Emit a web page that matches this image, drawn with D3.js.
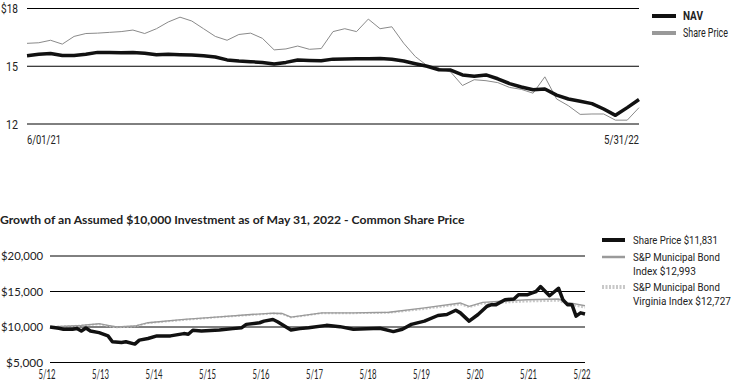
<!DOCTYPE html>
<html><head><meta charset="utf-8">
<script src="https://cdn.jsdelivr.net/npm/d3@7/dist/d3.min.js"></script>
<style>body{margin:0;background:#fff}svg{display:block}</style>
</head><body>
<svg id="c" width="733" height="381"></svg>
<script>
// ---------- Top chart data (weekly, from 6/01/21) ----------
const topStartDate = "2021-06-01";
const navValues = [15.55,15.62,15.66,15.56,15.56,15.62,15.72,15.72,15.70,15.71,15.68,15.60,15.62,15.60,15.58,15.54,15.48,15.33,15.27,15.24,15.19,15.12,15.20,15.32,15.30,15.29,15.37,15.38,15.39,15.39,15.40,15.36,15.27,15.13,15.00,14.82,14.80,14.55,14.48,14.55,14.35,14.10,13.92,13.78,13.82,13.50,13.30,13.18,13.06,12.78,12.45,12.85,13.27];
const sharePriceValues = [16.19,16.22,16.35,16.15,16.55,16.70,16.72,16.76,16.80,16.88,16.70,16.95,17.30,17.55,17.35,16.95,16.55,16.35,16.65,16.72,16.45,15.85,15.90,16.05,15.88,15.92,16.80,16.95,16.80,17.45,16.95,17.05,16.20,15.50,15.03,14.90,14.70,14.00,14.30,14.25,14.15,13.90,13.80,13.60,14.45,13.30,12.95,12.50,12.52,12.52,12.20,12.20,12.85];
const topYTicks = [12, 15, 18];
const topYTickLabels = ["12", "15", "$18"];
const topXTickLabels = ["6/01/21", "5/31/22"];
const topLegend = ["NAV", "Share Price"];

// ---------- Bottom chart data (months after 5/12) ----------
const growthTitle = "Growth of an Assumed $10,000 Investment as of May 31, 2022 - Common Share Price";
const shareMonths = [0,2,3,5,6,7,8,9,11,13,14,16,17,19,20,22,24,27,30,31,32,34,38,41,43,44,47,48,50,51,54,56,58,62,65,68,71,74,77,79,81,84,87,89,91,92,94,96,98,99,100,102,104,105,107,108,109,110,112,114,115,116,117,118,119,120];
const shareGrowth = [10000,9815,9680,9680,9800,9440,9860,9440,9210,8750,7920,7820,7920,7590,8150,8380,8750,8750,9070,8980,9540,9440,9580,9770,9900,10370,10600,10830,11060,10740,9580,9770,9900,10230,10050,9680,9770,9815,9350,9680,10370,10830,11620,11760,12360,11990,10830,11760,12920,13150,13150,13840,13940,14540,14540,14770,15000,15690,14400,15460,13840,13150,13150,11530,11990,11831];
const indexMonths = [0,7,11,13,15,19,22,30,38,45,50,52,54,61,68,76,84,92,94,97,107,114,116,120];
const muniIndex = [10000,10230,10460,10230,10000,10140,10600,11060,11440,11760,11940,11900,11390,11990,11990,12080,12690,13380,12920,13470,13840,13940,13470,12993];
const virginiaIndex = [10000,10200,10400,10150,9950,10100,10550,11000,11400,11700,11900,11850,11350,11950,11950,12000,12550,13200,12800,13300,13600,13700,13250,12727];
const bottomYTicks = [5000, 10000, 15000, 20000];
const bottomXTickLabels = ["5/12","5/13","5/14","5/15","5/16","5/17","5/18","5/19","5/20","5/21","5/22"];
const bottomLegend = [["Share Price $11,831"], ["S&P Municipal Bond", "Index $12,993"], ["S&P Municipal Bond", "Virginia Index $12,727"]];

const svg = d3.select("#c");
const cond = "Roboto,'Liberation Sans',sans-serif";
const reg = "Lato,'Open Sans',sans-serif";

// squeeze a text horizontally (about its anchor) to the width seen in the reference
function fit(sel, w) {
  const node = sel.node();
  const L = node.getComputedTextLength();
  if (!L) return sel;
  const s = w / L;
  const ax = +sel.attr("x") || 0;
  sel.attr("transform", `translate(${ax},0) scale(${s},1) translate(${-ax},0)`);
  return sel;
}

// ================= TOP CHART =================
const t0 = d3.timeParse("%Y-%m-%d")(topStartDate);
const topDates = navValues.map((_, i) => d3.timeDay.offset(t0, 7 * i));
const xT = d3.scaleTime().domain([topDates[0], topDates[topDates.length - 1]]).range([27, 639]);
const yT = d3.scaleLinear().domain([12, 18]).range([124, 8.5]);

const gTop = svg.append("g");
gTop.selectAll("line.grid").data(topYTicks).join("line")
  .attr("x1", xT.range()[0]).attr("x2", xT.range()[1])
  .attr("y1", d => yT(d)).attr("y2", d => yT(d))
  .attr("stroke", "#000").attr("stroke-width", 1);
gTop.selectAll("text.yl").data(topYTicks).join("text")
  .attr("x", 18).attr("y", d => yT(d)).attr("dy", "0.36em")
  .attr("text-anchor", "end").attr("font-family", cond).attr("font-size", 13).attr("fill", "#222")
  .text((d, i) => topYTickLabels[i])
  .each(function (d, i) { fit(d3.select(this), topYTickLabels[i].length === 3 ? 17 : 12); });
fit(gTop.append("text").attr("x", 27).attr("y", 144).attr("font-family", cond).attr("font-size", 12).attr("fill", "#222")
  .text(topXTickLabels[0]), 34);
fit(gTop.append("text").attr("x", 639).attr("y", 144).attr("text-anchor", "end").attr("font-family", cond).attr("font-size", 12).attr("fill", "#222")
  .text(topXTickLabels[1]), 35);

const lineT = v => d3.line().x((d, i) => xT(topDates[i])).y(d => yT(d))(v);
gTop.append("path").attr("d", lineT(sharePriceValues)).attr("fill", "none")
  .attr("stroke", "#8a8a8a").attr("stroke-width", 1).attr("stroke-linejoin", "round");
gTop.append("path").attr("d", lineT(navValues)).attr("fill", "none")
  .attr("stroke", "#111").attr("stroke-width", 3.5).attr("stroke-linejoin", "round");

// top legend
const tl = gTop.append("g");
const tlW = [20, 45];
[["#111", 16], ["#999", 33]].forEach(([c, y], i) => {
  tl.append("line").attr("x1", 652).attr("x2", 676).attr("y1", y).attr("y2", y)
    .attr("stroke", c).attr("stroke-width", 4);
  fit(tl.append("text").attr("x", 683).attr("y", y).attr("dy", "0.36em")
    .attr("font-family", cond).attr("font-size", 12).attr("fill", "#222")
    .attr("font-weight", i === 0 ? "bold" : "normal")
    .text(topLegend[i]), tlW[i]);
});

// ================= BOTTOM CHART =================
const b0 = new Date(2012, 4, 31);
const mDate = m => d3.timeMonth.offset(b0, m);
const xB = d3.scaleTime().domain([b0, mDate(120)]).range([50, 585]);
const yB = d3.scaleLinear().domain([5000, 20000]).range([362.5, 256]);

const gB = svg.append("g");
fit(gB.append("text").attr("x", 0).attr("y", 224).attr("font-family", reg).attr("font-weight", "bold")
  .attr("font-size", 11).attr("fill", "#222").text(growthTitle), 465);

gB.selectAll("line.g").data(bottomYTicks).join("line")
  .attr("x1", 50).attr("x2", 585).attr("y1", d => yB(d)).attr("y2", d => yB(d))
  .attr("stroke", "#000").attr("stroke-width", 1);
gB.selectAll("text.yl").data(bottomYTicks).join("text")
  .attr("x", 43).attr("y", d => yB(d)).attr("dy", "0.36em").attr("text-anchor", "end")
  .attr("font-family", reg).attr("font-size", 12).attr("fill", "#222")
  .text(d => "$" + d3.format(",")(d))
  .each(function (d) { fit(d3.select(this), d < 10000 ? 37 : 42); });
gB.selectAll("text.xl").data(bottomXTickLabels).join("text")
  .attr("x", (d, i) => xB(mDate(12 * i)) - 3).attr("y", 375).attr("dy", "0.36em").attr("text-anchor", "middle")
  .attr("font-family", reg).attr("font-size", 12.5).attr("fill", "#222")
  .text(d => d)
  .each(function () { fit(d3.select(this), 17); });

const lineB = (ms, vs) => d3.line().x((d, i) => xB(mDate(ms[i]))).y(d => yB(d))(vs);
gB.append("path").attr("d", lineB(indexMonths, virginiaIndex)).attr("fill", "none")
  .attr("stroke", "#c8c8c8").attr("stroke-width", 2).attr("stroke-dasharray", "2,1.5");
gB.append("path").attr("d", lineB(indexMonths, muniIndex)).attr("fill", "none")
  .attr("stroke", "#9a9a9a").attr("stroke-width", 1.3);
gB.append("path").attr("d", lineB(shareMonths, shareGrowth)).attr("fill", "none")
  .attr("stroke", "#111").attr("stroke-width", 3.5).attr("stroke-linejoin", "round");

// bottom legend
const bl = gB.append("g");
const legY = [240, 257, 287];
const legStyle = [["#111", 4, null], ["#9a9a9a", 2.5, null], ["#c8c8c8", 4, "2,1.5"]];
const legW = [[85], [87, 63], [87, 98]];
bottomLegend.forEach((lines, i) => {
  const [c, w, dash] = legStyle[i];
  bl.append("line").attr("x1", 602).attr("x2", 625).attr("y1", legY[i]).attr("y2", legY[i])
    .attr("stroke", c).attr("stroke-width", w).attr("stroke-dasharray", dash);
  lines.forEach((s, j) => {
    fit(bl.append("text").attr("x", 633).attr("y", legY[i] + j * 14).attr("dy", "0.36em")
      .attr("font-family", cond).attr("font-size", 11.5).attr("fill", "#222").text(s), legW[i][j]);
  });
});
</script>
</body></html>
